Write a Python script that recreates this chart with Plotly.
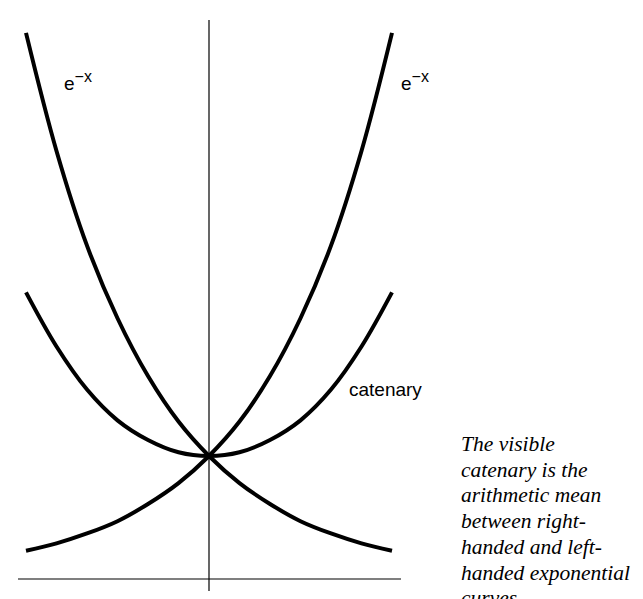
import plotly.graph_objects as go

W, H = 643, 599

# values
x_vals = [-1.5, -1.25, -1.0, -0.75, -0.5, -0.25, 0.0, 0.25, 0.5, 0.75, 1.0, 1.25, 1.5]
exp_right = [0.23, 0.29, 0.37, 0.47, 0.61, 0.78, 1.0, 1.28, 1.65, 2.12, 2.71, 3.48, 4.44]
exp_left = [4.44, 3.48, 2.71, 2.12, 1.65, 1.28, 1.0, 0.78, 0.61, 0.47, 0.37, 0.29, 0.23]
catenary = [2.33, 1.89, 1.54, 1.29, 1.13, 1.03, 1.0, 1.03, 1.13, 1.29, 1.54, 1.89, 2.33]

caption_lines = [
    "The visible",
    "catenary is the",
    "arithmetic mean",
    "between right-",
    "handed and left-",
    "handed exponential",
    "curves",
]


def px(x):
    return x / W


def py(y):
    return 1 - y / H


fig = go.Figure()
for ys in (exp_left, exp_right, catenary):
    fig.add_trace(go.Scatter(x=x_vals, y=ys, mode="lines", line_shape="spline",
                             line=dict(color="black", width=4), showlegend=False,
                             hoverinfo="skip"))

# axis lines
fig.add_shape(type="line", x0=-1.566, x1=1.574, y0=0, y1=0, line=dict(color="black", width=1.2))
fig.add_shape(type="line", x0=0, x1=0, y0=-0.098, y1=4.545, line=dict(color="black", width=1.2))

sans = dict(family="Liberation Sans, Arial, sans-serif", size=19, color="black")
label = "e<sup><span style='font-size:16px'>−x</span></sup>"
for cx in (70, 407):
    fig.add_annotation(x=px(cx), y=py(73), xref="paper", yref="paper", text=label,
                       showarrow=False, font=sans, xanchor="center", yanchor="middle")
fig.add_annotation(x=px(339), y=py(381), xref="paper", yref="paper", text="catenary",
                   showarrow=False, font=sans, xanchor="left", yanchor="middle")

serif = dict(family="Liberation Serif, Times New Roman, serif", size=21.5, color="black")
for i, line in enumerate(caption_lines):
    base = 443 + i * 25.7
    fig.add_annotation(x=px(451), y=py(base - 7), xref="paper", yref="paper",
                       text=f"<i>{line}</i>", showarrow=False, font=serif,
                       xanchor="left", yanchor="middle")

fig.update_layout(
    width=W, height=H,
    margin=dict(l=0, r=0, t=0, b=0),
    paper_bgcolor="white", plot_bgcolor="white",
    xaxis=dict(visible=False, range=[-201 / 122, 442 / 122], fixedrange=True),
    yaxis=dict(visible=False, range=[-28 / 123, 571 / 123], fixedrange=True),
)

fig.write_html("out.html")
